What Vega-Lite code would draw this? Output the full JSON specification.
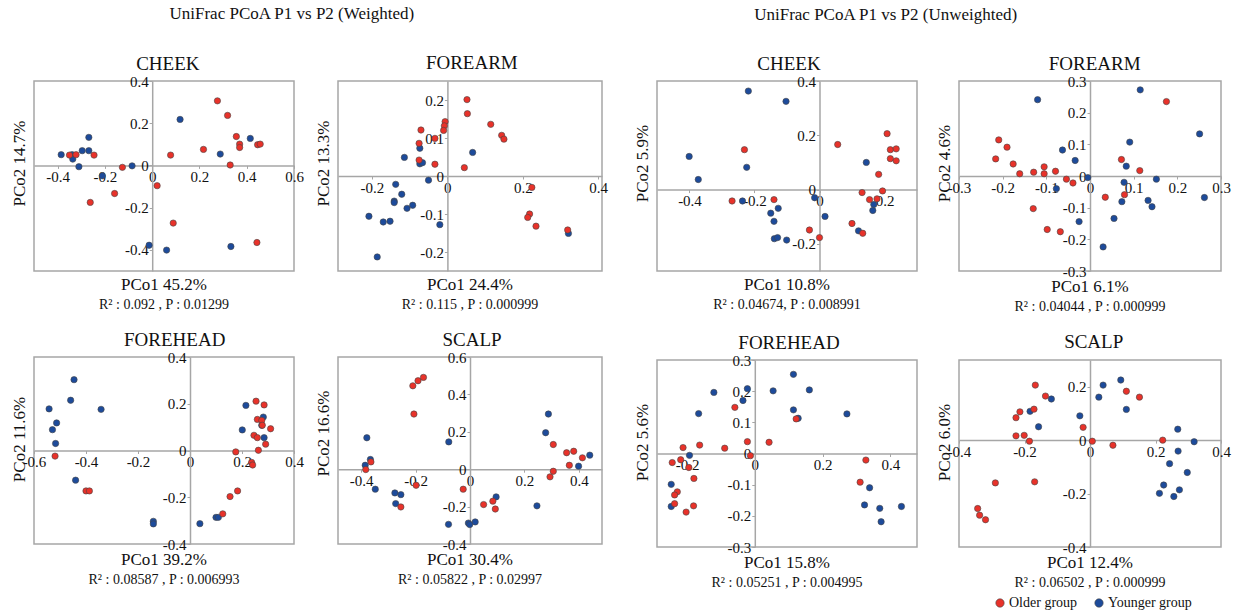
{
  "$schema": "https://vega.github.io/schema/vega-lite/v6.json",
  "background": "white",
  "padding": {"left": 9, "top": 5, "right": 0, "bottom": 0},
  "spacing": 23,
  "datasets": {
    "pts": [
      {"p":"WC","g":"Younger group","x":-0.385,"y":0.051},{"p":"WC","g":"Younger group","x":-0.339,"y":0.051},{"p":"WC","g":"Younger group","x":-0.336,"y":0.030},{"p":"WC","g":"Younger group","x":-0.310,"y":-0.006},{"p":"WC","g":"Younger group","x":-0.296,"y":0.070},{"p":"WC","g":"Younger group","x":-0.268,"y":0.133},{"p":"WC","g":"Younger group","x":-0.268,"y":0.070},{"p":"WC","g":"Younger group","x":-0.211,"y":-0.049},{"p":"WC","g":"Younger group","x":-0.085,"y":-0.002},{"p":"WC","g":"Younger group","x":0.118,"y":0.218},{"p":"WC","g":"Younger group","x":0.288,"y":0.054},{"p":"WC","g":"Younger group","x":0.415,"y":0.128},{"p":"WC","g":"Younger group","x":-0.013,"y":-0.378},{"p":"WC","g":"Younger group","x":0.061,"y":-0.401},{"p":"WC","g":"Younger group","x":0.333,"y":-0.384},
      {"p":"WC","g":"Older group","x":-0.350,"y":0.049},{"p":"WC","g":"Older group","x":-0.322,"y":0.051},{"p":"WC","g":"Older group","x":-0.246,"y":0.049},{"p":"WC","g":"Older group","x":-0.126,"y":-0.009},{"p":"WC","g":"Older group","x":-0.159,"y":-0.133},{"p":"WC","g":"Older group","x":-0.262,"y":-0.175},{"p":"WC","g":"Older group","x":0.021,"y":-0.096},{"p":"WC","g":"Older group","x":0.089,"y":-0.273},{"p":"WC","g":"Older group","x":0.078,"y":0.049},{"p":"WC","g":"Older group","x":0.217,"y":0.076},{"p":"WC","g":"Older group","x":0.276,"y":0.306},{"p":"WC","g":"Older group","x":0.319,"y":0.237},{"p":"WC","g":"Older group","x":0.356,"y":0.137},{"p":"WC","g":"Older group","x":0.370,"y":0.101},{"p":"WC","g":"Older group","x":0.370,"y":0.085},{"p":"WC","g":"Older group","x":0.330,"y":0.002},{"p":"WC","g":"Older group","x":0.446,"y":0.098},{"p":"WC","g":"Older group","x":0.457,"y":0.101},{"p":"WC","g":"Older group","x":0.443,"y":-0.365},

      {"p":"WF","g":"Younger group","x":-0.114,"y":0.049},{"p":"WF","g":"Younger group","x":-0.073,"y":0.073},{"p":"WF","g":"Younger group","x":-0.073,"y":0.032},{"p":"WF","g":"Younger group","x":-0.066,"y":0.035},{"p":"WF","g":"Younger group","x":-0.050,"y":-0.011},{"p":"WF","g":"Younger group","x":-0.137,"y":-0.022},{"p":"WF","g":"Younger group","x":-0.121,"y":-0.048},{"p":"WF","g":"Younger group","x":-0.141,"y":-0.066},{"p":"WF","g":"Younger group","x":-0.141,"y":-0.070},{"p":"WF","g":"Younger group","x":-0.107,"y":-0.085},{"p":"WF","g":"Younger group","x":-0.092,"y":-0.077},{"p":"WF","g":"Younger group","x":-0.208,"y":-0.106},{"p":"WF","g":"Younger group","x":-0.170,"y":-0.121},{"p":"WF","g":"Younger group","x":-0.152,"y":-0.119},{"p":"WF","g":"Younger group","x":-0.020,"y":-0.128},{"p":"WF","g":"Younger group","x":-0.186,"y":-0.213},{"p":"WF","g":"Younger group","x":0.067,"y":0.062},{"p":"WF","g":"Younger group","x":0.321,"y":-0.151},
      {"p":"WF","g":"Older group","x":-0.070,"y":0.121},{"p":"WF","g":"Older group","x":-0.075,"y":0.086},{"p":"WF","g":"Older group","x":-0.033,"y":0.099},{"p":"WF","g":"Older group","x":-0.075,"y":0.042},{"p":"WF","g":"Older group","x":-0.033,"y":0.031},{"p":"WF","g":"Older group","x":-0.006,"y":0.143},{"p":"WF","g":"Older group","x":-0.008,"y":0.132},{"p":"WF","g":"Older group","x":-0.010,"y":0.120},{"p":"WF","g":"Older group","x":0.052,"y":0.201},{"p":"WF","g":"Older group","x":0.053,"y":0.164},{"p":"WF","g":"Older group","x":0.045,"y":0.022},{"p":"WF","g":"Older group","x":0.115,"y":0.136},{"p":"WF","g":"Older group","x":0.144,"y":0.107},{"p":"WF","g":"Older group","x":0.150,"y":0.097},{"p":"WF","g":"Older group","x":0.224,"y":-0.030},{"p":"WF","g":"Older group","x":0.218,"y":-0.100},{"p":"WF","g":"Older group","x":0.213,"y":-0.109},{"p":"WF","g":"Older group","x":0.235,"y":-0.132},{"p":"WF","g":"Older group","x":0.319,"y":-0.142},

      {"p":"UC","g":"Younger group","x":-0.219,"y":0.363},{"p":"UC","g":"Younger group","x":-0.103,"y":0.325},{"p":"UC","g":"Younger group","x":-0.401,"y":0.122},{"p":"UC","g":"Younger group","x":-0.373,"y":0.037},{"p":"UC","g":"Younger group","x":-0.224,"y":0.082},{"p":"UC","g":"Younger group","x":-0.237,"y":-0.042},{"p":"UC","g":"Younger group","x":-0.127,"y":-0.069},{"p":"UC","g":"Younger group","x":-0.150,"y":-0.087},{"p":"UC","g":"Younger group","x":-0.140,"y":-0.117},{"p":"UC","g":"Younger group","x":-0.139,"y":-0.181},{"p":"UC","g":"Younger group","x":-0.129,"y":-0.177},{"p":"UC","g":"Younger group","x":-0.101,"y":-0.186},{"p":"UC","g":"Younger group","x":-0.015,"y":-0.030},{"p":"UC","g":"Younger group","x":0.017,"y":-0.099},{"p":"UC","g":"Younger group","x":0.144,"y":0.100},{"p":"UC","g":"Younger group","x":0.120,"y":-0.152},{"p":"UC","g":"Younger group","x":0.167,"y":-0.055},{"p":"UC","g":"Younger group","x":0.164,"y":-0.077},
      {"p":"UC","g":"Older group","x":-0.231,"y":0.147},{"p":"UC","g":"Older group","x":-0.269,"y":-0.042},{"p":"UC","g":"Older group","x":-0.140,"y":-0.037},{"p":"UC","g":"Older group","x":-0.031,"y":-0.149},{"p":"UC","g":"Older group","x":0.000,"y":-0.177},{"p":"UC","g":"Older group","x":0.056,"y":0.166},{"p":"UC","g":"Older group","x":0.100,"y":-0.125},{"p":"UC","g":"Older group","x":0.131,"y":-0.011},{"p":"UC","g":"Older group","x":0.133,"y":-0.161},{"p":"UC","g":"Older group","x":0.154,"y":-0.037},{"p":"UC","g":"Older group","x":0.177,"y":-0.034},{"p":"UC","g":"Older group","x":0.182,"y":0.056},{"p":"UC","g":"Older group","x":0.194,"y":-0.005},{"p":"UC","g":"Older group","x":0.208,"y":0.206},{"p":"UC","g":"Older group","x":0.218,"y":0.147},{"p":"UC","g":"Older group","x":0.218,"y":0.114},{"p":"UC","g":"Older group","x":0.236,"y":0.150},{"p":"UC","g":"Older group","x":0.236,"y":0.106},

      {"p":"UF","g":"Younger group","x":-0.120,"y":0.241},{"p":"UF","g":"Younger group","x":-0.063,"y":0.082},{"p":"UF","g":"Younger group","x":-0.034,"y":0.049},{"p":"UF","g":"Younger group","x":-0.077,"y":-0.040},{"p":"UF","g":"Younger group","x":-0.025,"y":-0.144},{"p":"UF","g":"Younger group","x":-0.005,"y":-0.005},{"p":"UF","g":"Younger group","x":0.030,"y":-0.224},{"p":"UF","g":"Younger group","x":0.055,"y":-0.134},{"p":"UF","g":"Younger group","x":0.073,"y":-0.081},{"p":"UF","g":"Younger group","x":0.078,"y":-0.020},{"p":"UF","g":"Younger group","x":0.083,"y":0.031},{"p":"UF","g":"Younger group","x":0.091,"y":0.107},{"p":"UF","g":"Younger group","x":0.115,"y":0.272},{"p":"UF","g":"Younger group","x":0.133,"y":-0.077},{"p":"UF","g":"Younger group","x":0.142,"y":-0.097},{"p":"UF","g":"Younger group","x":0.152,"y":-0.010},{"p":"UF","g":"Younger group","x":0.251,"y":0.133},{"p":"UF","g":"Younger group","x":0.262,"y":-0.068},
      {"p":"UF","g":"Older group","x":-0.216,"y":0.054},{"p":"UF","g":"Older group","x":-0.209,"y":0.114},{"p":"UF","g":"Older group","x":-0.190,"y":0.091},{"p":"UF","g":"Older group","x":-0.176,"y":0.038},{"p":"UF","g":"Older group","x":-0.161,"y":0.007},{"p":"UF","g":"Older group","x":-0.129,"y":0.012},{"p":"UF","g":"Older group","x":-0.105,"y":0.029},{"p":"UF","g":"Older group","x":-0.105,"y":0.007},{"p":"UF","g":"Older group","x":-0.079,"y":0.015},{"p":"UF","g":"Older group","x":-0.054,"y":-0.010},{"p":"UF","g":"Older group","x":-0.039,"y":-0.022},{"p":"UF","g":"Older group","x":-0.130,"y":-0.103},{"p":"UF","g":"Older group","x":-0.098,"y":-0.169},{"p":"UF","g":"Older group","x":-0.068,"y":-0.176},{"p":"UF","g":"Older group","x":0.035,"y":-0.067},{"p":"UF","g":"Older group","x":0.072,"y":0.052},{"p":"UF","g":"Older group","x":0.079,"y":-0.059},{"p":"UF","g":"Older group","x":0.114,"y":0.017},{"p":"UF","g":"Older group","x":0.175,"y":0.235},

      {"p":"WH","g":"Younger group","x":-0.446,"y":0.303},{"p":"WH","g":"Younger group","x":-0.459,"y":0.215},{"p":"WH","g":"Younger group","x":-0.542,"y":0.178},{"p":"WH","g":"Younger group","x":-0.342,"y":0.176},{"p":"WH","g":"Younger group","x":-0.513,"y":0.118},{"p":"WH","g":"Younger group","x":-0.529,"y":0.089},{"p":"WH","g":"Younger group","x":-0.517,"y":0.030},{"p":"WH","g":"Younger group","x":-0.440,"y":-0.127},{"p":"WH","g":"Younger group","x":-0.141,"y":-0.303},{"p":"WH","g":"Younger group","x":-0.141,"y":-0.314},{"p":"WH","g":"Younger group","x":0.038,"y":-0.313},{"p":"WH","g":"Younger group","x":0.100,"y":-0.286},{"p":"WH","g":"Younger group","x":0.109,"y":-0.286},{"p":"WH","g":"Younger group","x":0.215,"y":0.193},{"p":"WH","g":"Younger group","x":0.201,"y":0.088},{"p":"WH","g":"Younger group","x":0.282,"y":0.143},{"p":"WH","g":"Younger group","x":0.276,"y":0.108},{"p":"WH","g":"Younger group","x":0.285,"y":0.055},
      {"p":"WH","g":"Older group","x":-0.519,"y":-0.024},{"p":"WH","g":"Older group","x":-0.400,"y":-0.173},{"p":"WH","g":"Older group","x":-0.387,"y":-0.173},{"p":"WH","g":"Older group","x":0.126,"y":-0.271},{"p":"WH","g":"Older group","x":0.154,"y":-0.197},{"p":"WH","g":"Older group","x":0.183,"y":-0.173},{"p":"WH","g":"Older group","x":0.176,"y":-0.006},{"p":"WH","g":"Older group","x":0.254,"y":0.211},{"p":"WH","g":"Older group","x":0.285,"y":0.195},{"p":"WH","g":"Older group","x":0.259,"y":0.133},{"p":"WH","g":"Older group","x":0.276,"y":0.129},{"p":"WH","g":"Older group","x":0.278,"y":0.108},{"p":"WH","g":"Older group","x":0.246,"y":0.065},{"p":"WH","g":"Older group","x":0.259,"y":0.055},{"p":"WH","g":"Older group","x":0.263,"y":0.001},{"p":"WH","g":"Older group","x":0.291,"y":0.027},{"p":"WH","g":"Older group","x":0.310,"y":0.093},{"p":"WH","g":"Older group","x":0.237,"y":-0.051},{"p":"WH","g":"Older group","x":0.241,"y":-0.062},

      {"p":"WS","g":"Younger group","x":-0.379,"y":0.168},{"p":"WS","g":"Younger group","x":-0.366,"y":0.052},{"p":"WS","g":"Younger group","x":-0.385,"y":0.021},{"p":"WS","g":"Younger group","x":-0.348,"y":-0.107},{"p":"WS","g":"Younger group","x":-0.276,"y":-0.127},{"p":"WS","g":"Younger group","x":-0.254,"y":-0.136},{"p":"WS","g":"Younger group","x":-0.273,"y":-0.184},{"p":"WS","g":"Younger group","x":-0.078,"y":0.146},{"p":"WS","g":"Younger group","x":-0.079,"y":-0.295},{"p":"WS","g":"Younger group","x":-0.006,"y":-0.288},{"p":"WS","g":"Younger group","x":-0.001,"y":-0.296},{"p":"WS","g":"Younger group","x":0.019,"y":-0.282},{"p":"WS","g":"Younger group","x":0.096,"y":-0.148},{"p":"WS","g":"Younger group","x":0.246,"y":-0.196},{"p":"WS","g":"Younger group","x":0.278,"y":0.195},{"p":"WS","g":"Younger group","x":0.288,"y":0.295},{"p":"WS","g":"Younger group","x":0.399,"y":0.016},{"p":"WS","g":"Younger group","x":0.440,"y":0.075},
      {"p":"WS","g":"Older group","x":-0.210,"y":0.446},{"p":"WS","g":"Older group","x":-0.191,"y":0.473},{"p":"WS","g":"Older group","x":-0.171,"y":0.491},{"p":"WS","g":"Older group","x":-0.206,"y":0.295},{"p":"WS","g":"Older group","x":-0.383,"y":-0.002},{"p":"WS","g":"Older group","x":-0.364,"y":0.039},{"p":"WS","g":"Older group","x":-0.198,"y":-0.086},{"p":"WS","g":"Older group","x":-0.254,"y":-0.202},{"p":"WS","g":"Older group","x":-0.025,"y":-0.107},{"p":"WS","g":"Older group","x":0.050,"y":-0.189},{"p":"WS","g":"Older group","x":0.084,"y":-0.171},{"p":"WS","g":"Older group","x":0.093,"y":-0.213},{"p":"WS","g":"Older group","x":0.294,"y":-0.041},{"p":"WS","g":"Older group","x":0.306,"y":-0.011},{"p":"WS","g":"Older group","x":0.306,"y":0.132},{"p":"WS","g":"Older group","x":0.355,"y":0.088},{"p":"WS","g":"Older group","x":0.381,"y":0.096},{"p":"WS","g":"Older group","x":0.365,"y":0.021},{"p":"WS","g":"Older group","x":0.413,"y":0.061},

      {"p":"UH","g":"Younger group","x":-0.121,"y":0.196},{"p":"UH","g":"Younger group","x":-0.166,"y":0.128},{"p":"UH","g":"Younger group","x":-0.035,"y":0.170},{"p":"UH","g":"Younger group","x":-0.022,"y":0.208},{"p":"UH","g":"Younger group","x":-0.193,"y":-0.006},{"p":"UH","g":"Younger group","x":-0.247,"y":-0.099},{"p":"UH","g":"Younger group","x":-0.247,"y":-0.170},{"p":"UH","g":"Younger group","x":0.054,"y":0.201},{"p":"UH","g":"Younger group","x":0.114,"y":0.254},{"p":"UH","g":"Younger group","x":0.114,"y":0.140},{"p":"UH","g":"Younger group","x":0.128,"y":0.113},{"p":"UH","g":"Younger group","x":0.161,"y":0.204},{"p":"UH","g":"Younger group","x":0.272,"y":0.127},{"p":"UH","g":"Younger group","x":0.339,"y":-0.110},{"p":"UH","g":"Younger group","x":0.324,"y":-0.165},{"p":"UH","g":"Younger group","x":0.369,"y":-0.176},{"p":"UH","g":"Younger group","x":0.373,"y":-0.219},{"p":"UH","g":"Younger group","x":0.433,"y":-0.170},
      {"p":"UH","g":"Older group","x":-0.059,"y":0.148},{"p":"UH","g":"Older group","x":-0.022,"y":0.038},{"p":"UH","g":"Older group","x":-0.013,"y":-0.007},{"p":"UH","g":"Older group","x":0.042,"y":0.036},{"p":"UH","g":"Older group","x":0.122,"y":0.111},{"p":"UH","g":"Older group","x":-0.089,"y":0.017},{"p":"UH","g":"Older group","x":-0.163,"y":0.027},{"p":"UH","g":"Older group","x":-0.212,"y":0.019},{"p":"UH","g":"Older group","x":-0.244,"y":-0.029},{"p":"UH","g":"Older group","x":-0.219,"y":-0.020},{"p":"UH","g":"Older group","x":-0.195,"y":-0.045},{"p":"UH","g":"Older group","x":-0.180,"y":-0.080},{"p":"UH","g":"Older group","x":-0.229,"y":-0.123},{"p":"UH","g":"Older group","x":-0.237,"y":-0.133},{"p":"UH","g":"Older group","x":-0.237,"y":-0.161},{"p":"UH","g":"Older group","x":-0.181,"y":-0.168},{"p":"UH","g":"Older group","x":-0.203,"y":-0.188},{"p":"UH","g":"Older group","x":0.311,"y":-0.092},{"p":"UH","g":"Older group","x":0.328,"y":-0.021},

      {"p":"US","g":"Younger group","x":-0.118,"y":0.154},{"p":"US","g":"Younger group","x":-0.183,"y":0.108},{"p":"US","g":"Younger group","x":-0.157,"y":0.050},{"p":"US","g":"Younger group","x":-0.031,"y":0.091},{"p":"US","g":"Younger group","x":0.027,"y":0.161},{"p":"US","g":"Younger group","x":0.040,"y":0.206},{"p":"US","g":"Younger group","x":0.094,"y":0.225},{"p":"US","g":"Younger group","x":0.111,"y":0.115},{"p":"US","g":"Younger group","x":0.268,"y":0.041},{"p":"US","g":"Younger group","x":0.318,"y":-0.006},{"p":"US","g":"Younger group","x":0.269,"y":-0.041},{"p":"US","g":"Younger group","x":0.243,"y":-0.088},{"p":"US","g":"Younger group","x":0.297,"y":-0.121},{"p":"US","g":"Younger group","x":0.225,"y":-0.168},{"p":"US","g":"Younger group","x":0.212,"y":-0.199},{"p":"US","g":"Younger group","x":0.256,"y":-0.211},{"p":"US","g":"Younger group","x":0.273,"y":-0.186},
      {"p":"US","g":"Older group","x":-0.167,"y":0.206},{"p":"US","g":"Older group","x":-0.136,"y":0.165},{"p":"US","g":"Older group","x":-0.171,"y":0.116},{"p":"US","g":"Older group","x":-0.214,"y":0.106},{"p":"US","g":"Older group","x":-0.226,"y":0.084},{"p":"US","g":"Older group","x":-0.226,"y":0.016},{"p":"US","g":"Older group","x":-0.201,"y":0.018},{"p":"US","g":"Older group","x":-0.185,"y":-0.004},{"p":"US","g":"Older group","x":-0.021,"y":0.048},{"p":"US","g":"Older group","x":0.007,"y":-0.004},{"p":"US","g":"Older group","x":0.070,"y":-0.019},{"p":"US","g":"Older group","x":0.111,"y":0.183},{"p":"US","g":"Older group","x":0.151,"y":0.161},{"p":"US","g":"Older group","x":0.222,"y":0.000},{"p":"US","g":"Older group","x":-0.289,"y":-0.160},{"p":"US","g":"Older group","x":-0.169,"y":-0.156},{"p":"US","g":"Older group","x":-0.343,"y":-0.256},{"p":"US","g":"Older group","x":-0.337,"y":-0.281},{"p":"US","g":"Older group","x":-0.319,"y":-0.298}
    ]
  },
  "hconcat": [
    {
      "title": {"text": "UniFrac PCoA P1 vs P2 (Weighted)", "anchor": "middle", "frame": "bounds", "fontSize": 17, "offset": 31, "dx": -17},
      "spacing": 18,
      "vconcat": [
        {
          "spacing": 8,
          "hconcat": [
            {
              "title": {"text": "CHEEK", "anchor": "middle", "frame": "bounds", "offset": -1, "dx": 11},
              "vconcat": [{
                "width": 260, "height": 190,
                "title": {"text": "PCo1  45.2%", "subtitle": "R² : 0.092 , P : 0.01299", "orient": "bottom", "anchor": "middle", "frame": "group", "offset": 6, "fontSize": 17},
                "data": {"name": "pts"},
                "transform": [{"filter": "datum.p === 'WC'"}],
                "mark": {"type": "point", "filled": true, "size": 40, "stroke": "#444", "strokeWidth": 0.6, "opacity": 1},
                "encoding": {
                  "x": {"field": "x", "type": "quantitative", "scale": {"domain": [-0.5, 0.6], "nice": false, "zero": false}, "axis": {"values": [-0.4, -0.2, 0, 0.2, 0.4, 0.6], "offset": -105.6, "title": null}},
                  "y": {"field": "y", "type": "quantitative", "scale": {"domain": [-0.5, 0.4], "nice": false, "zero": false}, "axis": {"values": [-0.4, -0.2, 0, 0.2, 0.4], "offset": -118.2, "title": "PCo2  14.7%", "titleX": -133, "titleY": 82, "titleBaseline": "middle", "titleAlign": "center"}},
                  "color": {"field": "g", "type": "nominal", "scale": {"domain": ["Older group", "Younger group"], "range": ["#e8322a", "#1d4b9b"]}, "legend": {"orient": "none", "legendX": 959, "legendY": 515, "direction": "horizontal", "title": null}}
                }
              }]
            },
            {
              "title": {"text": "FOREARM", "anchor": "middle", "frame": "bounds", "offset": 7, "dx": 11},
              "vconcat": [{
                "width": 264, "height": 190,
                "title": {"text": "PCo1  24.4%", "subtitle": "R² : 0.115 , P : 0.000999", "orient": "bottom", "anchor": "middle", "frame": "group", "offset": 6, "fontSize": 17},
                "data": {"name": "pts"},
                "transform": [{"filter": "datum.p === 'WF'"}],
                "mark": {"type": "point", "filled": true, "size": 40, "stroke": "#444", "strokeWidth": 0.6, "opacity": 1},
                "encoding": {
                  "x": {"field": "x", "type": "quantitative", "scale": {"domain": [-0.29, 0.41], "nice": false, "zero": false}, "axis": {"values": [-0.2, 0, 0.2, 0.4], "offset": -95, "title": null}},
                  "y": {"field": "y", "type": "quantitative", "scale": {"domain": [-0.25, 0.25], "nice": false, "zero": false}, "axis": {"values": [-0.2, -0.1, 0, 0.1, 0.2], "offset": -109.4, "title": "PCo2  13.3%", "titleX": -124.4, "titleY": 82, "titleBaseline": "middle", "titleAlign": "center"}},
                  "color": {"field": "g", "type": "nominal", "scale": {"domain": ["Older group", "Younger group"], "range": ["#e8322a", "#1d4b9b"]}, "legend": {"orient": "none", "legendX": 959, "legendY": 515, "direction": "horizontal", "title": null}}
                }
              }]
            }
          ]
        },
        {
          "spacing": 8,
          "hconcat": [
            {
              "title": {"text": "FOREHEAD", "anchor": "middle", "frame": "bounds", "offset": -1, "dx": 18},
              "vconcat": [{
                "width": 260, "height": 187,
                "title": {"text": "PCo1  39.2%", "subtitle": "R² : 0.08587 , P : 0.006993", "orient": "bottom", "anchor": "middle", "frame": "group", "offset": 0, "fontSize": 17},
                "data": {"name": "pts"},
                "transform": [{"filter": "datum.p === 'WH'"}],
                "mark": {"type": "point", "filled": true, "size": 40, "stroke": "#444", "strokeWidth": 0.6, "opacity": 1},
                "encoding": {
                  "x": {"field": "x", "type": "quantitative", "scale": {"domain": [-0.6, 0.4], "nice": false, "zero": false}, "axis": {"values": [-0.6, -0.4, -0.2, 0, 0.2, 0.4], "offset": -93.5, "title": null}},
                  "y": {"field": "y", "type": "quantitative", "scale": {"domain": [-0.4, 0.4], "nice": false, "zero": false}, "axis": {"values": [-0.4, -0.2, 0, 0.2, 0.4], "offset": -156, "title": "PCo2  11.6%", "titleX": -171, "titleY": 82, "titleBaseline": "middle", "titleAlign": "center"}},
                  "color": {"field": "g", "type": "nominal", "scale": {"domain": ["Older group", "Younger group"], "range": ["#e8322a", "#1d4b9b"]}, "legend": {"orient": "none", "legendX": 959, "legendY": 515, "direction": "horizontal", "title": null}}
                }
              }]
            },
            {
              "title": {"text": "SCALP", "anchor": "middle", "frame": "bounds", "offset": -1, "dx": 14},
              "vconcat": [{
                "width": 264, "height": 187,
                "title": {"text": "PCo1  30.4%", "subtitle": "R² : 0.05822 , P : 0.02997", "orient": "bottom", "anchor": "middle", "frame": "group", "offset": 0, "fontSize": 17},
                "data": {"name": "pts"},
                "transform": [{"filter": "datum.p === 'WS'"}],
                "mark": {"type": "point", "filled": true, "size": 40, "stroke": "#444", "strokeWidth": 0.6, "opacity": 1},
                "encoding": {
                  "x": {"field": "x", "type": "quantitative", "scale": {"domain": [-0.485, 0.485], "nice": false, "zero": false}, "axis": {"values": [-0.4, -0.2, 0, 0.2, 0.4], "offset": -74.8, "title": null}},
                  "y": {"field": "y", "type": "quantitative", "scale": {"domain": [-0.4, 0.6], "nice": false, "zero": false}, "axis": {"values": [-0.4, -0.2, 0, 0.2, 0.4, 0.6], "offset": -132, "title": "PCo2  16.6%", "titleX": -147, "titleY": 76, "titleBaseline": "middle", "titleAlign": "center"}},
                  "color": {"field": "g", "type": "nominal", "scale": {"domain": ["Older group", "Younger group"], "range": ["#e8322a", "#1d4b9b"]}, "legend": {"orient": "none", "legendX": 959, "legendY": 515, "direction": "horizontal", "title": null}}
                }
              }]
            }
          ]
        }
      ]
    },
    {
      "title": {"text": "UniFrac PCoA P1 vs P2 (Unweighted)", "anchor": "middle", "frame": "bounds", "fontSize": 17, "offset": 31, "dx": -46},
      "spacing": 18,
      "vconcat": [
        {
          "spacing": 16,
          "hconcat": [
            {
              "title": {"text": "CHEEK", "anchor": "middle", "frame": "bounds", "offset": -1, "dx": 14},
              "vconcat": [{
                "width": 260, "height": 190,
                "title": {"text": "PCo1  10.8%", "subtitle": "R² : 0.04674, P : 0.008991", "orient": "bottom", "anchor": "middle", "frame": "group", "offset": 6, "fontSize": 17},
                "data": {"name": "pts"},
                "transform": [{"filter": "datum.p === 'UC'"}],
                "mark": {"type": "point", "filled": true, "size": 40, "stroke": "#444", "strokeWidth": 0.6, "opacity": 1},
                "encoding": {
                  "x": {"field": "x", "type": "quantitative", "scale": {"domain": [-0.5, 0.3], "nice": false, "zero": false}, "axis": {"values": [-0.4, -0.2, 0, 0.2], "offset": -81.4, "title": null}},
                  "y": {"field": "y", "type": "quantitative", "scale": {"domain": [-0.3, 0.4], "nice": false, "zero": false}, "axis": {"values": [-0.2, 0, 0.2, 0.4], "offset": -162.5, "title": "PCo2  5.9%", "titleX": -177.5, "titleY": 82, "titleBaseline": "middle", "titleAlign": "center"}},
                  "color": {"field": "g", "type": "nominal", "scale": {"domain": ["Older group", "Younger group"], "range": ["#e8322a", "#1d4b9b"]}, "legend": {"orient": "none", "legendX": 959, "legendY": 515, "direction": "horizontal", "title": null}}
                }
              }]
            },
            {
              "title": {"text": "FOREARM", "anchor": "middle", "frame": "bounds", "offset": -1, "dx": 12},
              "vconcat": [{
                "width": 262, "height": 190,
                "title": {"text": "PCo1  6.1%", "subtitle": "R² : 0.04044 , P : 0.000999", "orient": "bottom", "anchor": "middle", "frame": "group", "offset": 0, "fontSize": 17},
                "data": {"name": "pts"},
                "transform": [{"filter": "datum.p === 'UF'"}],
                "mark": {"type": "point", "filled": true, "size": 40, "stroke": "#444", "strokeWidth": 0.6, "opacity": 1},
                "encoding": {
                  "x": {"field": "x", "type": "quantitative", "scale": {"domain": [-0.3, 0.3], "nice": false, "zero": false}, "axis": {"values": [-0.3, -0.2, -0.1, 0, 0.1, 0.2, 0.3], "offset": -95, "title": null}},
                  "y": {"field": "y", "type": "quantitative", "scale": {"domain": [-0.3, 0.3], "nice": false, "zero": false}, "axis": {"values": [-0.3, -0.2, -0.1, 0, 0.1, 0.2, 0.3], "offset": -131, "title": "PCo2  4.6%", "titleX": -146, "titleY": 82, "titleBaseline": "middle", "titleAlign": "center"}},
                  "color": {"field": "g", "type": "nominal", "scale": {"domain": ["Older group", "Younger group"], "range": ["#e8322a", "#1d4b9b"]}, "legend": {"orient": "none", "legendX": 959, "legendY": 515, "direction": "horizontal", "title": null}}
                }
              }]
            }
          ]
        },
        {
          "spacing": 16,
          "hconcat": [
            {
              "title": {"text": "FOREHEAD", "anchor": "middle", "frame": "bounds", "offset": -1, "dx": 14},
              "vconcat": [{
                "width": 260, "height": 187,
                "title": {"text": "PCo1  15.8%", "subtitle": "R² : 0.05251 , P : 0.004995", "orient": "bottom", "anchor": "middle", "frame": "group", "offset": 0, "fontSize": 17},
                "data": {"name": "pts"},
                "transform": [{"filter": "datum.p === 'UH'"}],
                "mark": {"type": "point", "filled": true, "size": 40, "stroke": "#444", "strokeWidth": 0.6, "opacity": 1},
                "encoding": {
                  "x": {"field": "x", "type": "quantitative", "scale": {"domain": [-0.289, 0.479], "nice": false, "zero": false}, "axis": {"values": [-0.2, 0, 0.2, 0.4], "offset": -93.5, "title": null}},
                  "y": {"field": "y", "type": "quantitative", "scale": {"domain": [-0.3, 0.3], "nice": false, "zero": false}, "axis": {"values": [-0.3, -0.2, -0.1, 0, 0.1, 0.2, 0.3], "offset": -97.8, "title": "PCo2  5.6%", "titleX": -112.8, "titleY": 82, "titleBaseline": "middle", "titleAlign": "center"}},
                  "color": {"field": "g", "type": "nominal", "scale": {"domain": ["Older group", "Younger group"], "range": ["#e8322a", "#1d4b9b"]}, "legend": {"orient": "none", "legendX": 959, "legendY": 515, "direction": "horizontal", "title": null}}
                }
              }]
            },
            {
              "title": {"text": "SCALP", "anchor": "middle", "frame": "bounds", "offset": 7, "dx": 11},
              "vconcat": [{
                "width": 262, "height": 187,
                "title": {"text": "PCo1  12.4%", "subtitle": "R² : 0.06502 , P : 0.000999", "orient": "bottom", "anchor": "middle", "frame": "group", "offset": 0, "fontSize": 17},
                "data": {"name": "pts"},
                "transform": [{"filter": "datum.p === 'US'"}],
                "mark": {"type": "point", "filled": true, "size": 40, "stroke": "#444", "strokeWidth": 0.6, "opacity": 1},
                "encoding": {
                  "x": {"field": "x", "type": "quantitative", "scale": {"domain": [-0.4, 0.4], "nice": false, "zero": false}, "axis": {"values": [-0.4, -0.2, 0, 0.2, 0.4], "offset": -106.9, "title": null}},
                  "y": {"field": "y", "type": "quantitative", "scale": {"domain": [-0.4, 0.3], "nice": false, "zero": false}, "axis": {"values": [-0.4, -0.2, 0, 0.2], "offset": -131, "title": "PCo2  6.0%", "titleX": -146, "titleY": 82, "titleBaseline": "middle", "titleAlign": "center"}},
                  "color": {"field": "g", "type": "nominal", "scale": {"domain": ["Older group", "Younger group"], "range": ["#e8322a", "#1d4b9b"]}, "legend": {"orient": "none", "legendX": 959, "legendY": 515, "direction": "horizontal", "title": null}}
                }
              }]
            }
          ]
        }
      ]
    }
  ],
  "config": {
    "font": "Liberation Serif",
    "view": {"stroke": "#a6a6a6", "strokeWidth": 1.5},
    "axis": {"grid": false, "domainColor": "#a6a6a6", "domainWidth": 1.5, "ticks": true, "tickColor": "#a6a6a6", "tickSize": 3, "labelFont": "Liberation Serif", "labelFontSize": 15, "labelColor": "#111", "labelOverlap": false, "labelFlush": false, "labelBound": false, "labelPadding": 1, "labelExpr": "'' + datum.value", "titleFont": "Liberation Serif", "titleFontSize": 17, "titleFontWeight": "normal", "titleColor": "#111"},
    "title": {"font": "Liberation Serif", "fontSize": 19, "fontWeight": "normal", "color": "#111", "subtitleFont": "Liberation Serif", "subtitleFontSize": 14, "subtitleColor": "#111", "subtitlePadding": 4},
    "legend": {"labelFont": "Liberation Serif", "labelFontSize": 14, "labelColor": "#111", "symbolType": "circle", "symbolSize": 70, "symbolStrokeColor": "#444", "symbolStrokeWidth": 0.6, "columnPadding": 14, "labelOffset": 2}
  }
}
